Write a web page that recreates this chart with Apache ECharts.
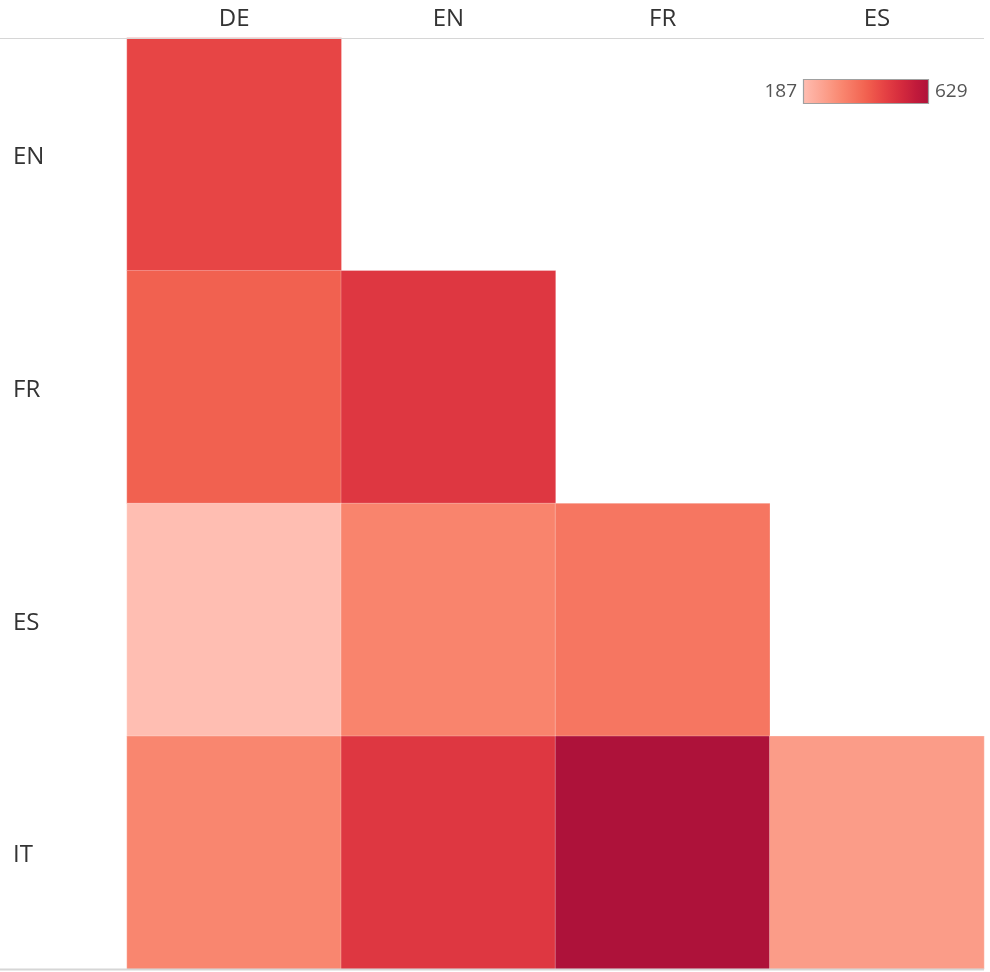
<!DOCTYPE html>
<html>
<head>
<meta charset="utf-8">
<script src="https://cdn.jsdelivr.net/npm/echarts@6/dist/echarts.min.js"></script>
<style>
html,body{margin:0;padding:0;background:#fff;}
#chart{width:990px;height:972px;}
</style>
</head>
<body>
<div id="chart"></div>
<script>
const columns = ['DE', 'EN', 'FR', 'ES'];
const rows = ['EN', 'FR', 'ES', 'IT'];
// values per row (null = empty cell), in column order
const rowEN = [466, null, null, null];
const rowFR = [410, 501, null, null];
const rowES = [187, 330, 362, null];
const rowIT = [325, 500, 629, 272];
const scaleMin = 187;
const scaleMax = 629;
const palette = ['#ffbeb2','#feb4a6','#fdab9b','#fca290','#fb9984','#fa8f79','#f9856e','#f77b66','#f5715d','#f36754','#f05c4d','#ec5049','#e74545','#e13b42','#da323f','#d3293d','#ca223c','#c11a3b','#b8163a','#ae123a'];

const allRows = [rowEN, rowFR, rowES, rowIT];
const data = [];
allRows.forEach((r, yi) => r.forEach((v, xi) => { if (v !== null) data.push([xi, yi, v]); }));

const chart = echarts.init(document.getElementById('chart'));
const font = "'Open Sans', 'Noto Sans', sans-serif";

// legend gradient stops built from the palette
const stops = palette.map((c, i) => ({ offset: i / (palette.length - 1), color: c }));

chart.setOption({
  backgroundColor: '#fff',
  animation: false,
  grid: { left: 127, right: 6, top: 38, bottom: 3 },
  xAxis: {
    type: 'category', position: 'top', data: columns,
    axisLine: { show: false }, axisTick: { show: false }, splitLine: { show: false },
    axisLabel: { color: '#333', fontSize: 24, fontFamily: font, margin: 19, verticalAlign: 'middle' }
  },
  yAxis: {
    type: 'category', inverse: true, data: rows,
    axisLine: { show: false }, axisTick: { show: false }, splitLine: { show: false },
    axisLabel: { color: '#333', fontSize: 24, fontFamily: font, align: 'left', margin: 114, verticalAlign: 'top', lineHeight: 6 }
  },
  visualMap: {
    type: 'continuous', min: scaleMin, max: scaleMax, show: false,
    inRange: { color: palette }
  },
  graphic: [
    { type: 'line', shape: { x1: 0, y1: 38.5, x2: 984, y2: 38.5 }, style: { stroke: '#d6d6d6', lineWidth: 1 }, z: 10 },
    { type: 'line', shape: { x1: 0, y1: 969.5, x2: 984, y2: 969.5 }, style: { stroke: '#d6d6d6', lineWidth: 2 }, z: 10 },
    { type: 'rect', shape: { x: 803.5, y: 79.5, width: 125, height: 24 },
      style: { fill: new echarts.graphic.LinearGradient(0, 0, 1, 0, stops), stroke: '#a0a0a0', lineWidth: 1.2 }, z: 10 },
    { type: 'text', x: 797, y: 92, style: { text: String(scaleMin), align: 'right', verticalAlign: 'middle', fill: '#555', fontSize: 19, fontFamily: font }, z: 10 },
    { type: 'text', x: 935, y: 92, style: { text: String(scaleMax), align: 'left', verticalAlign: 'middle', fill: '#555', fontSize: 19, fontFamily: font }, z: 10 }
  ],
  series: [{
    type: 'heatmap', data: data,
    itemStyle: { borderColor: 'rgba(255,255,255,0.25)', borderWidth: 1 },
    emphasis: { disabled: true }
  }]
});
</script>
</body>
</html>
